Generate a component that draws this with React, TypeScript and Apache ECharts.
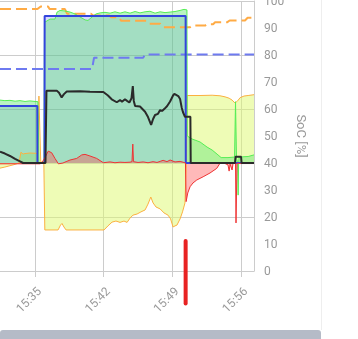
import React, { useEffect, useRef } from "react";
import * as echarts from "echarts";

// ---- axis / view data ----
const viewStart = "15:31:26";
const viewEnd = "15:57:19";
const timeTicks = ["15:35", "15:42", "15:49", "15:56"];
const powerRange = [-4, 6];
const powerStep = 2;
const socRange = [0, 100];
const socStep = 10;

// ---- series data: [time, value] ----
// dashed: state of charge (right axis, %)
const socData: [string, number][] = [
  ["15:31:26", 97], ["15:35:15", 97], ["15:35:35", 98], ["15:36:20", 98], ["15:36:29", 97],
  ["15:38:03", 97], ["15:38:16", 95.3], ["15:40:42", 95.3], ["15:40:55", 94.6], ["15:42:33", 94.6],
  ["15:42:45", 94], ["15:43:34", 94], ["15:43:46", 92.7], ["15:46:25", 92.7], ["15:46:40", 91.6],
  ["15:47:45", 91.6], ["15:48:00", 90.3], ["15:50:48", 90.3], ["15:51:00", 90.9], ["15:52:20", 90.9],
  ["15:52:32", 91.4], ["15:53:09", 91.4], ["15:53:21", 92.1], ["15:54:34", 92.1], ["15:54:50", 92.8],
  ["15:56:24", 92.8], ["15:56:40", 93.8], ["15:57:19", 93.8],
];
// dashed: target SoC (right axis, %)
const socTargetData: [string, number][] = [
  ["15:31:26", 74.8], ["15:40:49", 74.8], ["15:41:01", 79], ["15:46:01", 79], ["15:46:13", 80.2], ["15:57:19", 80.2],
];
// grid power (left axis, kW)
const gridData: [string, number][] = [
  ["15:31:26", -0.19], ["15:31:56", -0.15], ["15:32:27", -0.1], ["15:32:58", -0.05], ["15:33:22", 0],
  ["15:33:34", 0.4], ["15:33:47", 0.33], ["15:33:59", 0.35], ["15:34:29", 0.37], ["15:35:00", 0.36],
  ["15:35:18", 0.35], ["15:35:24", 2.48], ["15:35:28", 2.48], ["15:35:35", 0.05], ["15:35:54", 0],
  ["15:36:00", -2.48], ["15:37:21", -2.48], ["15:37:36", -2.3], ["15:37:45", -2.24], ["15:37:57", -2.37],
  ["15:38:10", -2.48], ["15:42:02", -2.48], ["15:42:26", -2.33], ["15:42:51", -2.19], ["15:43:15", -2.15],
  ["15:43:40", -2.2], ["15:44:04", -2.15], ["15:44:23", -2.2], ["15:44:41", -2.04], ["15:44:59", -1.93],
  ["15:45:24", -1.89], ["15:45:48", -1.81], ["15:46:13", -1.74], ["15:46:31", -1.52], ["15:46:48", -1.26],
  ["15:47:02", -1.48], ["15:47:20", -1.63], ["15:47:45", -1.7], ["15:48:09", -1.85], ["15:48:33", -1.93],
  ["15:48:49", -2.07], ["15:49:04", -2.37], ["15:49:16", -2.33], ["15:49:28", -2.3], ["15:49:47", -2.07],
  ["15:50:02", -1.81], ["15:50:17", -1.48], ["15:50:25", 0], ["15:50:30", 2.5], ["15:51:49", 2.5],
  ["15:53:03", 2.51], ["15:53:51", 2.49], ["15:54:22", 2.45], ["15:54:47", 2.4], ["15:55:05", 2.33],
  ["15:55:23", 2.22], ["15:55:39", 2.3], ["15:55:54", 2.42], ["15:56:18", 2.48], ["15:56:43", 2.5],
  ["15:57:19", 2.53],
];
// load power (left axis, kW)
const loadData: [string, number][] = [
  ["15:31:26", 2.11], ["15:35:14", 2.11], ["15:35:15", 0], ["15:35:58", 0], ["15:35:59", 5.44],
  ["15:50:21", 5.44], ["15:50:22", 0], ["15:57:19", 0],
];
// PV power (left axis, kW)
const pvData: [string, number][] = [
  ["15:31:26", 2.33], ["15:31:56", 2.31], ["15:32:27", 2.32], ["15:32:58", 2.29], ["15:33:28", 2.31],
  ["15:33:59", 2.28], ["15:34:29", 2.3], ["15:35:00", 2.28], ["15:35:18", 2.27], ["15:35:24", 0],
  ["15:35:55", 0], ["15:35:58", 5.22], ["15:36:07", 5.24], ["15:36:32", 5.33], ["15:37:02", 5.33],
  ["15:37:15", 5.59], ["15:37:33", 5.65], ["15:38:03", 5.63], ["15:38:34", 5.59], ["15:39:05", 5.52],
  ["15:39:35", 5.41], ["15:40:06", 5.3], ["15:40:24", 5.28], ["15:40:49", 5.41], ["15:41:13", 5.52],
  ["15:41:38", 5.56], ["15:42:08", 5.58], ["15:42:39", 5.55], ["15:43:09", 5.6], ["15:43:40", 5.55],
  ["15:44:10", 5.6], ["15:44:41", 5.55], ["15:45:12", 5.61], ["15:45:42", 5.56], ["15:46:13", 5.6],
  ["15:46:43", 5.62], ["15:47:14", 5.55], ["15:47:45", 5.6], ["15:48:15", 5.57], ["15:48:46", 5.59],
  ["15:49:16", 5.61], ["15:49:47", 5.65], ["15:50:11", 5.69], ["15:50:29", 5.67], ["15:50:31", 1.0],
  ["15:51:00", 0.89], ["15:51:49", 0.78], ["15:52:32", 0.59], ["15:53:03", 0.48], ["15:53:33", 0.33],
  ["15:53:58", 0.2], ["15:54:40", 0.2], ["15:55:20", 0.22], ["15:55:26", 2.27], ["15:55:32", 0.19],
  ["15:55:39", 0], ["15:55:42", -1.19], ["15:55:45", 0], ["15:55:48", 0.22], ["15:56:12", 0.23],
  ["15:56:43", 0.24], ["15:57:19", 0.3],
];
// battery power (left axis, kW)
const batteryData: [string, number][] = [
  ["15:31:26", -0.03], ["15:35:31", -0.03], ["15:35:41", 0], ["15:36:01", 0.2], ["15:36:21", 0.44],
  ["15:36:42", 0.38], ["15:37:02", 0.17], ["15:37:23", -0.03], ["15:37:51", 0], ["15:38:10", 0.05],
  ["15:38:34", 0.11], ["15:39:15", 0.17], ["15:39:46", 0.3], ["15:40:06", 0.32], ["15:40:36", 0.26],
  ["15:41:17", 0.17], ["15:41:58", 0.01], ["15:42:39", 0.04], ["15:43:09", 0.01], ["15:43:40", 0.03],
  ["15:44:10", 0.02], ["15:44:41", 0.03], ["15:44:53", 0.05], ["15:44:58", 0.7], ["15:45:02", 0.05],
  ["15:45:30", 0.02], ["15:46:01", 0.04], ["15:46:31", 0.01], ["15:47:02", 0.05], ["15:47:26", 0.02],
  ["15:47:45", 0.06], ["15:48:03", 0.1], ["15:48:27", 0.05], ["15:48:46", 0.11], ["15:49:16", 0.04],
  ["15:49:47", 0.06], ["15:50:11", 0.02], ["15:50:20", 0], ["15:50:24", -1.43], ["15:50:34", -1.11],
  ["15:50:48", -0.88], ["15:51:06", -0.74], ["15:51:29", -0.63], ["15:52:08", -0.51], ["15:52:50", -0.37],
  ["15:53:31", -0.2], ["15:53:51", -0.01], ["15:54:22", -0.02], ["15:54:40", -0.07], ["15:54:47", -0.3],
  ["15:54:53", -0.04], ["15:55:05", -0.26], ["15:55:11", -0.01], ["15:55:26", -0.01], ["15:55:29", -2.22],
  ["15:55:35", -0.01], ["15:55:54", -0.02], ["15:57:19", -0.02],
];
// house consumption (left axis, kW)
const houseData: [string, number][] = [
  ["15:31:26", 0.42], ["15:31:56", 0.35], ["15:32:27", 0.26], ["15:32:58", 0.15], ["15:33:28", 0.06],
  ["15:33:47", 0], ["15:36:04", 0], ["15:36:10", 2.68], ["15:37:13", 2.68], ["15:37:27", 2.6],
  ["15:37:43", 2.43], ["15:37:57", 2.55], ["15:38:14", 2.65], ["15:39:35", 2.66], ["15:40:36", 2.64],
  ["15:41:58", 2.63], ["15:42:26", 2.5], ["15:42:49", 2.36], ["15:43:20", 2.25], ["15:43:40", 2.33],
  ["15:43:52", 2.27], ["15:44:10", 2.36], ["15:44:23", 2.3], ["15:44:37", 2.24], ["15:44:50", 2.4],
  ["15:44:58", 2.85], ["15:45:04", 2.3], ["15:45:12", 2.11], ["15:45:42", 2.09], ["15:46:13", 1.9],
  ["15:46:31", 1.7], ["15:46:50", 1.41], ["15:47:02", 1.63], ["15:47:14", 1.78], ["15:47:32", 1.82],
  ["15:47:45", 1.96], ["15:47:57", 1.93], ["15:48:15", 2.03], ["15:48:27", 2.1], ["15:48:46", 2.28],
  ["15:49:04", 2.5], ["15:49:12", 2.56], ["15:49:36", 2.48], ["15:49:47", 2.37], ["15:49:57", 2.05],
  ["15:50:05", 1.88], ["15:50:17", 1.71], ["15:50:50", 1.71], ["15:50:52", 0], ["15:55:23", 0],
  ["15:55:26", 0.23], ["15:56:00", 0.23], ["15:56:03", 0], ["15:57:19", 0],
];
// marker below the plot (right axis units)
const markerData: [string, number][] = [["15:50:21", 11.1], ["15:50:21", -12]];

const toMin = (t: string) => {
  const [h, m, s] = t.split(":").map(Number);
  return h * 60 + m + (s || 0) / 60;
};
const fmt = (v: number) => {
  const h = Math.floor(v / 60);
  const m = Math.round(v - h * 60);
  return `${h}:${String(m).padStart(2, "0")}`;
};
const pts = (arr: [string, number][]) => arr.map(([t, v]) => [toMin(t), v]);

export default function App() {
  const ref = useRef<HTMLDivElement>(null);
  useEffect(() => {
    if (!ref.current) return;
    const chart = echarts.init(ref.current, undefined, { renderer: "svg" });
    const tickVals = timeTicks.map((t) => toMin(t));
    const base = { type: "line", showSymbol: false, symbol: "none", animation: false };
    chart.setOption({
      animation: false,
      textStyle: { fontFamily: "Roboto, sans-serif" },
      grid: { left: 0, right: 104, top: 1, bottom: 68, containLabel: false, outerBoundsMode: "none" },
      xAxis: {
        type: "value",
        min: toMin(viewStart),
        max: toMin(viewEnd),
        axisLine: { onZero: false, lineStyle: { color: "#cccccc" } },
        axisTick: { customValues: tickVals, length: 6, lineStyle: { color: "#cccccc" } },
        axisLabel: {
          customValues: tickVals,
          rotate: 45,
          color: "#999999",
          fontSize: 12,
          margin: 14,
          verticalAlign: "top",
          formatter: fmt,
        },
        splitLine: { show: true, lineStyle: { color: "#cccccc" } },
      },
      yAxis: [
        {
          type: "value",
          min: powerRange[0],
          max: powerRange[1],
          interval: powerStep,
          position: "left",
          axisLabel: { show: false },
          axisLine: { show: false },
          axisTick: { show: false },
          splitLine: { show: true, lineStyle: { color: "#cccccc" } },
        },
        {
          type: "value",
          min: socRange[0],
          max: socRange[1],
          interval: socStep,
          position: "right",
          name: "SoC [%]",
          nameLocation: "middle",
          nameRotate: -90,
          nameGap: 41,
          nameTextStyle: { color: "#999999", fontSize: 13 },
          axisLabel: { color: "#999999", fontSize: 12, margin: 10 },
          axisLine: { show: true, lineStyle: { color: "#cccccc" } },
          axisTick: { show: false },
          splitLine: { show: false },
        },
      ],
      series: [
        { ...base, name: "SoC", yAxisIndex: 1, data: pts(socData), lineStyle: { color: "#ffab45", width: 2, type: [11, 5] } },
        { ...base, name: "SoC Ziel", yAxisIndex: 1, data: pts(socTargetData), lineStyle: { color: "#6e7af0", width: 2, type: [11, 5] } },
        { ...base, name: "Netz", data: pts(gridData), lineStyle: { color: "#fbb040", width: 1 }, areaStyle: { color: "rgba(221,249,110,0.5)", opacity: 1 } },
        { ...base, name: "Last Fläche", data: pts(loadData), lineStyle: { width: 0 }, areaStyle: { color: "rgba(60,60,255,0.2)", opacity: 1 } },
        { ...base, name: "PV", data: pts(pvData), lineStyle: { color: "#55ee55", width: 1 }, areaStyle: { color: "rgba(100,230,120,0.45)", opacity: 1 } },
        { ...base, name: "Last", data: pts(loadData), lineStyle: { color: "#3344dd", width: 2 } },
        { ...base, name: "Batterie", data: pts(batteryData), lineStyle: { color: "#ee3333", width: 1 }, areaStyle: { color: "rgba(255,80,80,0.4)", opacity: 1 } },
        { ...base, name: "Haus", data: pts(houseData), lineStyle: { color: "#2a2a2a", width: 2 } },
        { ...base, name: "Marker", yAxisIndex: 1, clip: false, data: pts(markerData), lineStyle: { color: "#e82222", width: 4, cap: "round" } },
      ],
      graphic: [
        { type: "line", shape: { x1: 321.5, y1: 0, x2: 321.5, y2: 330 }, style: { stroke: "#eeeeee", lineWidth: 1 }, silent: true },
        { type: "rect", shape: { x: 0, y: 330, width: 321, height: 14, r: 3 }, style: { fill: "#b5bbc7" }, silent: true },
      ],
    });
    return () => chart.dispose();
  }, []);
  return <div ref={ref} style={{ position: "fixed", left: 0, top: 0, width: 358, height: 339 }} />;
}
